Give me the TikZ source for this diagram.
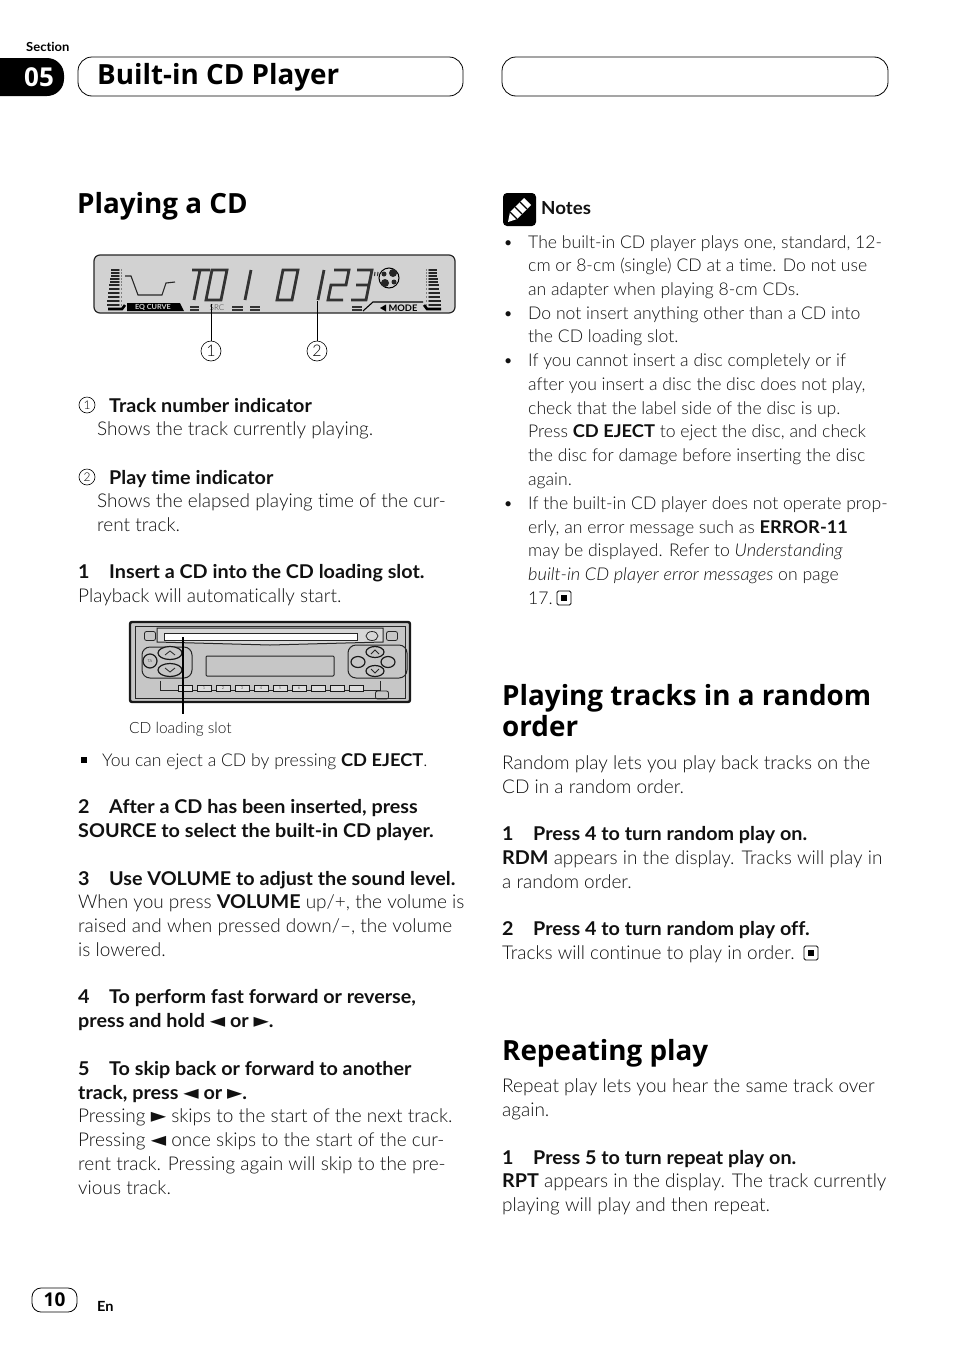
\documentclass[tikz,border=0pt]{standalone}
\usepackage{fontspec}
\setmainfont[Ligatures=NoCommon,BoldFont={Lato Bold},BoldFeatures={FakeStretch=1.04},ItalicFeatures={FakeStretch=1.035}]{Lato Light}
\newfontfamily\headfont{Open Sans}
\newfontfamily\symfont{DejaVu Sans}
\usetikzlibrary{calc,positioning,shapes.geometric}
\newcommand{\B}[1]{\textbf{#1}}
\newcommand{\stepno}[1]{\makebox[31pt][l]{\textbf{#1}}}
\newcommand{\tleft}{{\symfont\fontsize{20}{17}\selectfont ◄}}
\newcommand{\tright}{{\symfont\fontsize{20}{17}\selectfont ►}}
\newcommand{\lcdglyph}[2]{\draw[lcdline,shift={(#1,300)},xslant=.2] #2;}
\definecolor{lcdgray}{HTML}{D2D2D2}
\definecolor{unitgray}{HTML}{C6C6C6}
\definecolor{inktext}{HTML}{111111}
\begin{document}
\begin{tikzpicture}
      [x=1pt,y=-1pt,
        body/.style={anchor=base west,inner sep=0pt,text=inktext,
          font=\fontsize{19}{24}\selectfont},
        small/.style={body,font=\fontsize{17.6}{24}\selectfont},
        head/.style={anchor=base west,inner sep=0pt,
          font=\headfont\fontsize{27.8}{32}\selectfont\bfseries},
        pill/.style={draw=black,line width=.8pt,rounded corners=14pt},
        callout/.style={circle,draw=black,line width=.6pt,inner sep=0pt,
          minimum size=20pt,font=\fontsize{16}{16}\selectfont},
        mininum/.style={circle,draw=black,line width=.6pt,inner sep=0pt,
          minimum size=16pt,font=\fontsize{12}{12}\selectfont},
        endmark/.style={draw=black,line width=.8pt,rounded corners=1.5pt,
          inner sep=0pt,minimum size=14pt},
        endcore/.style={fill=black,inner sep=0pt,minimum size=6pt},
        lcdline/.style={draw=black!80,line width=2.8pt,line join=miter},
        unitline/.style={draw=black!85,line width=1pt},
        unitkey/.style={ellipse,draw=black!90,fill=unitgray,line width=1.2pt,
          inner sep=0pt,minimum width=24pt,minimum height=13pt},
        presetkey/.style={draw=black!90,fill=unitgray!60,line width=.9pt,inner sep=0pt,
          minimum width=14pt,minimum height=6pt,font=\fontsize{4}{4}\selectfont},
        leader/.style={draw=black,line width=.8pt}]
      \useasboundingbox (0,0) rectangle (954,1352);
      \fill[white] (0,0) rectangle (954,1352);

      % page header
      \node[anchor=base west,inner sep=0pt,font=\fontsize{12.5}{12}\selectfont\bfseries] (section) at (26,51) {Section};
      \fill[black,rounded corners=17pt] (-30,58) rectangle (64,96);
      \node[text=white,inner sep=0pt,font=\headfont\fontsize{26}{26}\selectfont\bfseries] (secnum) at (39,77) {05};
      \draw[pill] (78,57) rectangle (463,96);
      \draw[pill] (502,57) rectangle (888,96);
      \node[head] (chapter) at (97,84) {Built-in CD Player};

      % headings
      \node[head] (playing) at (77,213) {Playing a CD};
      \node[head] (randoma) at (502,705) {Playing tracks in a random};
      \node[head] (randomb) at (502,736) {order};
      \node[head] (repeat) at (502,1060) {Repeating play};

      % lcd display
      \draw[fill=lcdgray,draw=black!85,line width=1.2pt,rounded corners=6pt] (94,255) rectangle (455,313);
      \foreach \y/\w in {270/8,273/8,276/8,279/9,282/9,285/10,289/10,293/11,297/11,301/12,305/12}{
        \draw[black!85,line width=2.2pt] (119-\w,\y) -- (119,\y);
        \draw[black!50,line width=2.2pt,dash pattern=on 1pt off 1pt] (119,\y) -- (122,\y);
        \draw[black!85,line width=2.2pt] (429,\y) -- (429+\w,\y);
        \draw[black!50,line width=2.2pt,dash pattern=on 1pt off 1pt] (426,\y) -- (429,\y);
      }
      \draw[black,line width=2.6pt] (108,309) -- (122,309) -- (125,305);
      \draw[black,line width=2.6pt] (441,309) -- (427,309) -- (424,305);
      \draw[black!85,line width=1.1pt] (125,276) -- (131,276) -- (138,295) -- (162,295) -- (166,283) -- (175,282);
      \fill[black] (127,303) -- (180,303) -- (184,311) -- (127,311) -- cycle;
      \node[text=lcdgray,inner sep=0pt,font=\fontsize{7}{7}\selectfont\bfseries] (eqcurve) at (153,307) {EQ CURVE};
      \node[text=black!80,inner sep=0pt,font=\fontsize{8}{8}\selectfont] (src) at (217,308) {SRC};
      \node[inner sep=0pt,font=\fontsize{9}{9}\selectfont\bfseries] (mode) at (403,308) {MODE};
      \fill[black] (380,308) -- (386,304.5) -- (386,311.5) -- cycle;
      \draw[black,line width=1.1pt] (363,311) -- (373,302) -- (423,302);
      \foreach \xa/\xb in {190/199,232/243,250/260,352/362}{
        \draw[black!80,line width=1.1pt] (\xa,307) -- (\xb,307);
        \draw[black!80,line width=1.1pt] (\xa,310) -- (\xb,310);
      }
      \lcdglyph{186}{(0,-30) -- (18,-30) (8,-30) -- (8,0)}
      \lcdglyph{206}{(0,0) rectangle (15,-30)}
      \lcdglyph{245}{(0,0) -- (0,-30)}
      \lcdglyph{277}{(0,0) rectangle (15,-30)}
      \lcdglyph{318}{(0,0) -- (0,-30)}
      \lcdglyph{328}{(0,-30) -- (15,-30) -- (15,-15) -- (0,-15) -- (0,0) -- (15,0)}
      \lcdglyph{351}{(0,-30) -- (15,-30) -- (15,0) -- (0,0) (2,-15) -- (15,-15)}
      \draw[black!80,line width=1.1pt] (375,272) -- (374.5,276) (378,272) -- (377.5,276);
      \draw[black,fill=lcdgray,line width=1pt] (389,278) circle (10);
      \fill[black!85] (393,273) circle (4) (385,283) circle (4) (384,274) circle (2.5) (394,282) circle (2.5);

      \coordinate (tipa) at (211,304);
      \coordinate (tipb) at (317,301);
      \node[callout] (numa) at (211,351) {1};
      \node[callout] (numb) at (317,351) {2};
      \draw[leader] (tipa) -- (numa);
      \draw[leader] (tipb) -- (numb);

      % left column text
      \node[mininum] (marka) at (87,405) {1};
      \node[mininum] (markb) at (87,477) {2};
      \foreach \y/\txt in {412/{Track number indicator},484/{Play time indicator}}
        \node[body,font=\fontsize{19}{24}\selectfont\bfseries] (ind\y) at (109,\y) {\txt};
      \foreach \y/\txt in {435/{Shows the track currently playing.},
          507/{Shows the elapsed playing time of the cur-},531/{rent track.}}
        \node[body] (desc\y) at (97,\y) {\txt};
      \foreach \y/\txt in {578/{\stepno{1}\B{Insert a CD into the CD loading slot.}},
          602/{Playback will automatically start.},
          813/{\stepno{2}\B{After a CD has been inserted, press}},
          837/{\B{SOURCE to select the built-in CD player.}},
          885/{\stepno{3}\B{Use VOLUME to adjust the sound level.}},
          908/{When you press \B{VOLUME} up/+, the volume is},
          932/{raised and when pressed down/--, the volume},
          956/{is lowered.},
          1003/{\stepno{4}\B{To perform fast forward or reverse,}},
          1027/{\B{press and hold \tleft{} or \tright.}},
          1075/{\stepno{5}\B{To skip back or forward to another}},
          1099/{\B{track, press \tleft{} or \tright.}},
          1122/{Pressing \tright{} skips to the start of the next track.},
          1146/{Pressing \tleft{} once skips to the start of the cur-},
          1170/{rent track. Pressing again will skip to the pre-},
          1194/{vious track.}}
        \node[body] (left\y) at (78,\y) {\txt};
      \node[fill=black,inner sep=0pt,minimum size=6pt] (eject) at (84,760) {};
      \node[small] (ejecttext) at (102,766) {You can eject a CD by pressing \B{CD EJECT}.};

      % head unit
      \draw[fill=unitgray,draw=black!90,line width=2.4pt,rounded corners=2pt] (130,622) rectangle (410,702);
      \draw[unitline] (135,626) rectangle (405,698);
      \draw[unitline,fill=unitgray!70] (157,628) -- (383,628) -- (383,642) -- (270,645) -- (157,642) -- cycle;
      \draw[fill=white,draw=black!85,line width=.8pt] (164,633) rectangle (357,640);
      \draw[unitline,fill=unitgray,rounded corners=1pt] (206,656) rectangle (334,676);
      \draw[unitline,rounded corners=8pt] (142,647) rectangle (192,678);
      \draw[unitline,rounded corners=8pt] (348,645) rectangle (407,678);
      \node[unitkey] (tunerup) at (170,653) {};
      \node[unitkey] (tunerdown) at (170,670) {};
      \node[circle,draw=black!90,line width=1.2pt,fill=unitgray,inner sep=0pt,minimum size=14pt,font=\fontsize{4}{4}\selectfont] (knob) at (150,661) {TA};
      \node[unitkey,minimum width=18pt,minimum height=11pt] (padup) at (375,652) {};
      \node[unitkey,minimum width=18pt,minimum height=11pt] (paddown) at (375,671) {};
      \node[unitkey,minimum width=14pt,minimum height=11pt] (padleft) at (358,662) {};
      \node[unitkey,minimum width=14pt,minimum height=11pt] (padright) at (388,662) {};
      \draw[black!85,line width=.8pt] (165,655) -- (170,651) -- (175,655) (165,668) -- (170,672) -- (175,668)
        (371,654) -- (375,650) -- (379,654) (371,669) -- (375,673) -- (379,669);
      \draw[unitline] (160,681) -- (160,690) -- (380,690) -- (380,681);
      \foreach \n in {1,...,10}{
        \pgfmathtruncatemacro{\lbl}{\n-1}
        \ifnum\n>1 \ifnum\n<8
          \node[presetkey] (preset\n) at ({185+(\n-1)*19},688) {\lbl};
        \else
          \node[presetkey] (preset\n) at ({185+(\n-1)*19},688) {};
        \fi\else
          \node[presetkey] (preset\n) at ({185+(\n-1)*19},688) {};
        \fi
      }
      \node[draw=black!85,line width=.8pt,inner sep=0pt,minimum width=11pt,minimum height=9pt,rounded corners=2pt] (keya) at (150,636) {};
      \node[ellipse,draw=black!85,line width=.8pt,inner sep=0pt,minimum width=12pt,minimum height=9pt] (keyb) at (372,636) {};
      \node[draw=black!85,line width=.8pt,inner sep=0pt,minimum width=11pt,minimum height=9pt,rounded corners=2pt] (keyc) at (392,636) {};
      \node[draw=black!85,line width=.8pt,inner sep=0pt,minimum width=13pt,minimum height=8pt,rounded corners=2pt] (keyd) at (382,695) {};
      \coordinate (slottip) at (183,637);
      \node[body,font=\fontsize{15.5}{18}\selectfont] (slotlabel) at (129,733) {CD loading slot};
      \coordinate (slotend) at (183,714);
      \draw[black,line width=1.2pt] (slottip) -- (slotend);

      % notes
      \node[fill=black,rounded corners=4pt,inner sep=0pt,minimum size=33pt] (noteicon) at (519.5,209.5) {};
      \fill[white] (508,222) -- (510,212) -- (524,198) -- (531,205) -- (517,219) -- cycle;
      \draw[black,line width=1.2pt] (510,212) -- (517,219) (520,202) -- (527,209) (515,207) -- (522,214);
      \node[body,font=\fontsize{18}{20}\selectfont\bfseries] (notes) at (541,214) {Notes};
      \foreach \y in {248,319,366,509}
        \node[small] (dot\y) at (503,\y) {•};
      \foreach \y/\txt in {248/{The built-in CD player plays one, standard, 12-},
          271/{cm or 8-cm (single) CD at a time. Do not use},
          295/{an adapter when playing 8-cm CDs.},
          319/{Do not insert anything other than a CD into},
          342/{the CD loading slot.},
          366/{If you cannot insert a disc completely or if},
          390/{after you insert a disc the disc does not play,},
          414/{check that the label side of the disc is up.},
          437/{Press \B{CD EJECT} to eject the disc, and check},
          461/{the disc for damage before inserting the disc},
          485/{again.},
          509/{If the built-in CD player does not operate prop-},
          533/{erly, an error message such as \B{ERROR-11}},
          556/{may be displayed. Refer to \textit{Understanding}},
          580/{\textit{built-in CD player error messages} on page},
          604/{17.}}
        \node[small] (note\y) at (528,\y) {\txt};
      \node[endmark] (stopa) at (564,598) {};
      \node[endcore] (stopacore) at (stopa) {};

      % right column text
      \foreach \y/\txt in {769/{Random play lets you play back tracks on the},
          793/{CD in a random order.},
          840/{\stepno{1}\B{Press 4 to turn random play on.}},
          864/{\B{RDM} appears in the display. Tracks will play in},
          888/{a random order.},
          935/{\stepno{2}\B{Press 4 to turn random play off.}},
          959/{Tracks will continue to play in order.},
          1092/{Repeat play lets you hear the same track over},
          1116/{again.},
          1164/{\stepno{1}\B{Press 5 to turn repeat play on.}},
          1187/{\B{RPT} appears in the display. The track currently},
          1211/{playing will play and then repeat.}}
        \node[body] (right\y) at (502,\y) {\txt};
      \node[endmark] (stopb) at (811,953) {};
      \node[endcore] (stopbcore) at (stopb) {};

      % page footer
      \node[draw=black,line width=.8pt,rounded corners=9pt,minimum width=45pt,minimum height=24pt,inner sep=0pt,font=\headfont\fontsize{19}{20}\selectfont\bfseries] (pagenum) at (54.5,1300) {10};
      \node[anchor=base west,inner sep=0pt,font=\fontsize{14}{14}\selectfont\bfseries] (lang) at (97,1311) {En};
\end{tikzpicture}
\end{document}
